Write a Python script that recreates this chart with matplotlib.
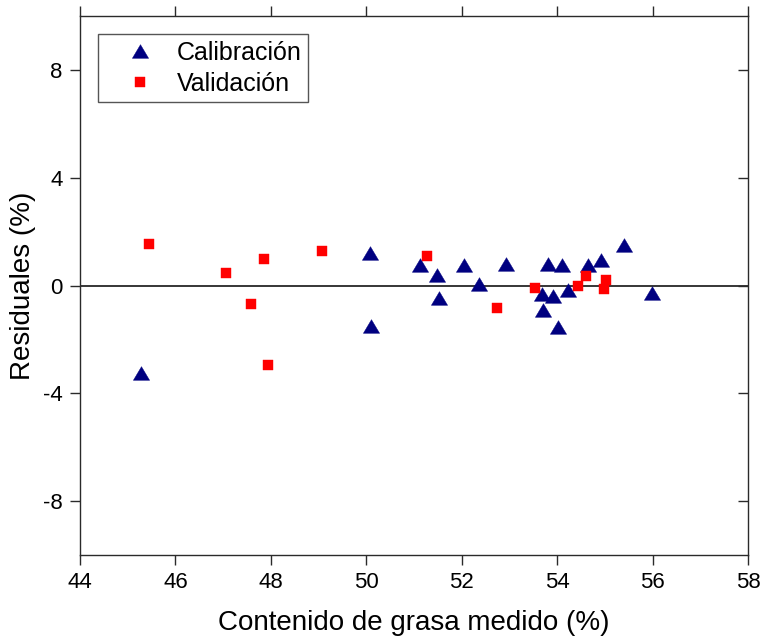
import numpy as np
import matplotlib
matplotlib.use('Agg')
import matplotlib.pyplot as plt

plt.rcParams['font.family'] = ['Liberation Sans', 'DejaVu Sans']
plt.rcParams['axes.unicode_minus'] = False

### Data
cal_x = [45.28, 50.07, 50.09, 51.13, 51.48, 51.53, 52.04, 52.37, 52.93,
		 53.80, 54.10, 54.65, 54.93, 55.41, 53.69, 53.92, 54.22, 53.71, 54.02, 55.99]
cal_y = [-3.25, 1.20, -1.49, 0.75, 0.38, -0.46, 0.75, 0.06, 0.80,
		 0.78, 0.75, 0.75, 0.93, 1.52, -0.31, -0.38, -0.17, -0.90, -1.53, -0.27]
val_x = [45.44, 47.07, 47.86, 49.08, 47.58, 47.95, 51.27, 52.74,
		 53.54, 54.43, 54.61, 55.03, 54.98]
val_y = [1.53, 0.47, 0.97, 1.28, -0.67, -2.96, 1.09, -0.83,
		 -0.11, -0.01, 0.37, 0.21, -0.12]
x_ticks = [44, 46, 48, 50, 52, 54, 56, 58]
y_ticks = [-8, -4, 0, 4, 8]

### Flattened triangle marker
tri = [(0, 0.84), (-1, -0.84), (1, -0.84), (0, 0.84)]

fig = plt.figure(figsize=(7.63, 6.41), dpi=100)
ax = fig.add_axes([0.1048, 0.1342, 0.8755, 0.8408])

ax.axhline(0, color='black', lw=1.1, zorder=1)
ax.plot(cal_x, cal_y, linestyle='none', marker=tri, ms=11.7, color='#000080',
		mec='#000080', mew=0.3, label='Calibración', zorder=3)
ax.plot(val_x, val_y, linestyle='none', marker='s', ms=7.9, color='#ff0000',
		mec='#ff0000', mew=0.3, label='Validación', zorder=3)

ax.set_xlim(44, 58)
ax.set_ylim(-10, 10)
ax.set_xticks(x_ticks)
ax.set_yticks(y_ticks)

for s in ax.spines.values():
	s.set_color('#2a2a2a')
	s.set_linewidth(1.0)

ax.tick_params(axis='both', which='major', labelsize=16, length=7.5, width=1.0,
			   color='#2a2a2a', direction='out', pad=5)
ax.tick_params(axis='x', top=True)
ax.tick_params(axis='y', right=True)
### right ticks point inward, top ticks outward
for t in ax.yaxis.get_major_ticks():
	t.tick2line.set_marker(matplotlib.lines.TICKLEFT)

ax.set_xlabel('Contenido de grasa medido (%)', fontsize=20, labelpad=12)
ax.set_ylabel('Residuales (%)', fontsize=20, labelpad=5)

leg = ax.legend(loc='upper left', bbox_to_anchor=(0.027, 0.966), fontsize=18,
				frameon=True, fancybox=False, handletextpad=0.05, borderpad=0.25,
				labelspacing=0.3, handlelength=2.85, borderaxespad=0)
leg.get_frame().set_edgecolor('#2a2a2a')
leg.get_frame().set_linewidth(1.0)

fig.savefig('out.png', dpi=100)
